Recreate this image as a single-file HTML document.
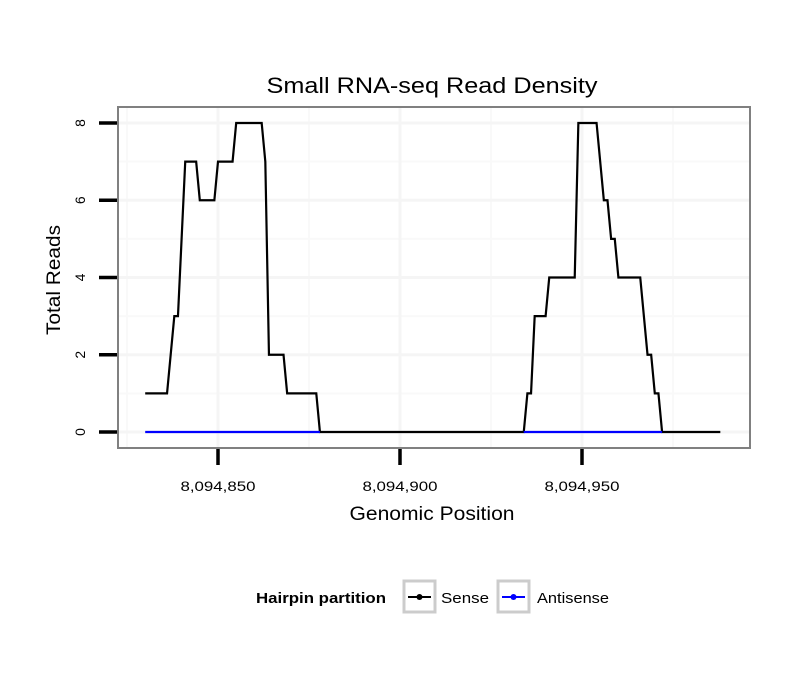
<!DOCTYPE html>
<html><head><meta charset="utf-8"><style>
body{margin:0;background:#fff}
svg text{font-family:"Liberation Sans",sans-serif}
</style></head><body>
<svg id="chart" width="810" height="690" xmlns="http://www.w3.org/2000/svg">
<rect width="810" height="690" fill="#fff"/>
<text x="432" y="93" text-anchor="middle" font-size="22" textLength="331" lengthAdjust="spacingAndGlyphs">Small RNA-seq Read Density</text>
<g id="grid"></g>
<g id="series"></g>
<rect x="118" y="107" width="632" height="341" fill="none" stroke="#808080" stroke-width="2"/>
<g id="axes"></g>
<text x="432" y="520" text-anchor="middle" font-size="19" textLength="165" lengthAdjust="spacingAndGlyphs">Genomic Position</text>
<text transform="translate(60,280) rotate(-90)" text-anchor="middle" font-size="19" textLength="110" lengthAdjust="spacingAndGlyphs">Total Reads</text>
<g>
<text x="256" y="603" font-size="15" font-weight="bold" textLength="130" lengthAdjust="spacingAndGlyphs">Hairpin partition</text>
<g>
<rect x="404" y="581" width="31" height="31" fill="#fff" stroke="#ccc" stroke-width="3"/>
<line x1="408" y1="597" x2="431" y2="597" stroke="#000" stroke-width="2"/>
<circle cx="419.5" cy="597" r="3" fill="#000"/>
<text x="441" y="603" font-size="15" textLength="48" lengthAdjust="spacingAndGlyphs">Sense</text></g>
<g>
<rect x="498" y="581" width="31" height="31" fill="#fff" stroke="#ccc" stroke-width="3"/>
<line x1="502" y1="597" x2="525" y2="597" stroke="#00f" stroke-width="2"/>
<circle cx="513.5" cy="597" r="3" fill="#00f"/>
<text x="537" y="603" font-size="15" textLength="72" lengthAdjust="spacingAndGlyphs">Antisense</text></g>
</g>
</svg>
<script>
const senseX=[8094830,8094836,8094838,8094839,8094841,8094844,8094845,8094849,8094850,8094854,8094855,8094862,8094863,8094864,8094868,8094869,8094877,8094878,8094934,8094935,8094936,8094937,8094940,8094941,8094948,8094949,8094954,8094956,8094957,8094958,8094959,8094960,8094966,8094968,8094969,8094970,8094971,8094972,8094988];
const senseY=[1,1,3,3,7,7,6,6,7,7,8,8,7,2,2,1,1,0,0,1,1,3,3,4,4,8,8,6,6,5,5,4,4,2,2,1,1,0,0];
const antisenseSegX=[[8094830,8094878],[8094934,8094972]];
const antisenseY=0;
const xTicks=[8094850,8094900,8094950];
const xTickLabels=["8,094,850","8,094,900","8,094,950"];
const xMinor=[8094825,8094875,8094925,8094975];
const yTicks=[0,2,4,6,8];
const yMinor=[1,3,5,7];
const X0=8094850,XPX=218,XS=3.64, YPX=432,YS=38.625;
const xs=v=>XPX+(v-X0)*XS, ys=v=>YPX-v*YS;
const NS="http://www.w3.org/2000/svg";
function mk(p,t,a){const e=document.createElementNS(NS,t);for(const k in a)e.setAttribute(k,a[k]);p.appendChild(e);return e;}
const grid=document.getElementById('grid'),axes=document.getElementById('axes'),ser=document.getElementById('series');
yMinor.forEach(v=>{const l=mk(grid,'line',{x1:118,x2:750,y1:ys(v),y2:ys(v),stroke:'#f9f9f9','stroke-width':2});

});
xMinor.forEach(v=>{const l=mk(grid,'line',{x1:xs(v),x2:xs(v),y1:107,y2:448,stroke:'#f9f9f9','stroke-width':2});

});
yTicks.forEach(v=>{const l=mk(grid,'line',{x1:118,x2:750,y1:ys(v),y2:ys(v),stroke:'#f5f5f5','stroke-width':3});


const t=mk(axes,'line',{x1:99,x2:117,y1:ys(v),y2:ys(v),stroke:'#000','stroke-width':3.5});


const tx=mk(axes,'text',{transform:`translate(85,${ys(v)}) rotate(-90)`,'text-anchor':'middle','font-size':14});
tx.textContent=v;

});
xTicks.forEach((v,i)=>{const l=mk(grid,'line',{x1:xs(v),x2:xs(v),y1:107,y2:448,stroke:'#f5f5f5','stroke-width':3});


const t=mk(axes,'line',{x1:xs(v),x2:xs(v),y1:449,y2:465,stroke:'#000','stroke-width':3.5});


const tx=mk(axes,'text',{x:xs(v),y:491,'text-anchor':'middle','font-size':14,textLength:75,lengthAdjust:'spacingAndGlyphs'});
tx.textContent=xTickLabels[i];

});
const sp=mk(ser,'polyline',{points:senseX.map((x,i)=>xs(x)+','+ys(senseY[i])).join(' '),fill:'none',stroke:'#000','stroke-width':2.2});


antisenseSegX.forEach(s=>{const l=mk(ser,'line',{x1:xs(s[0]),x2:xs(s[1]),y1:ys(antisenseY),y2:ys(antisenseY),stroke:'#00f','stroke-width':2.2});

});
</script>
</body></html>
